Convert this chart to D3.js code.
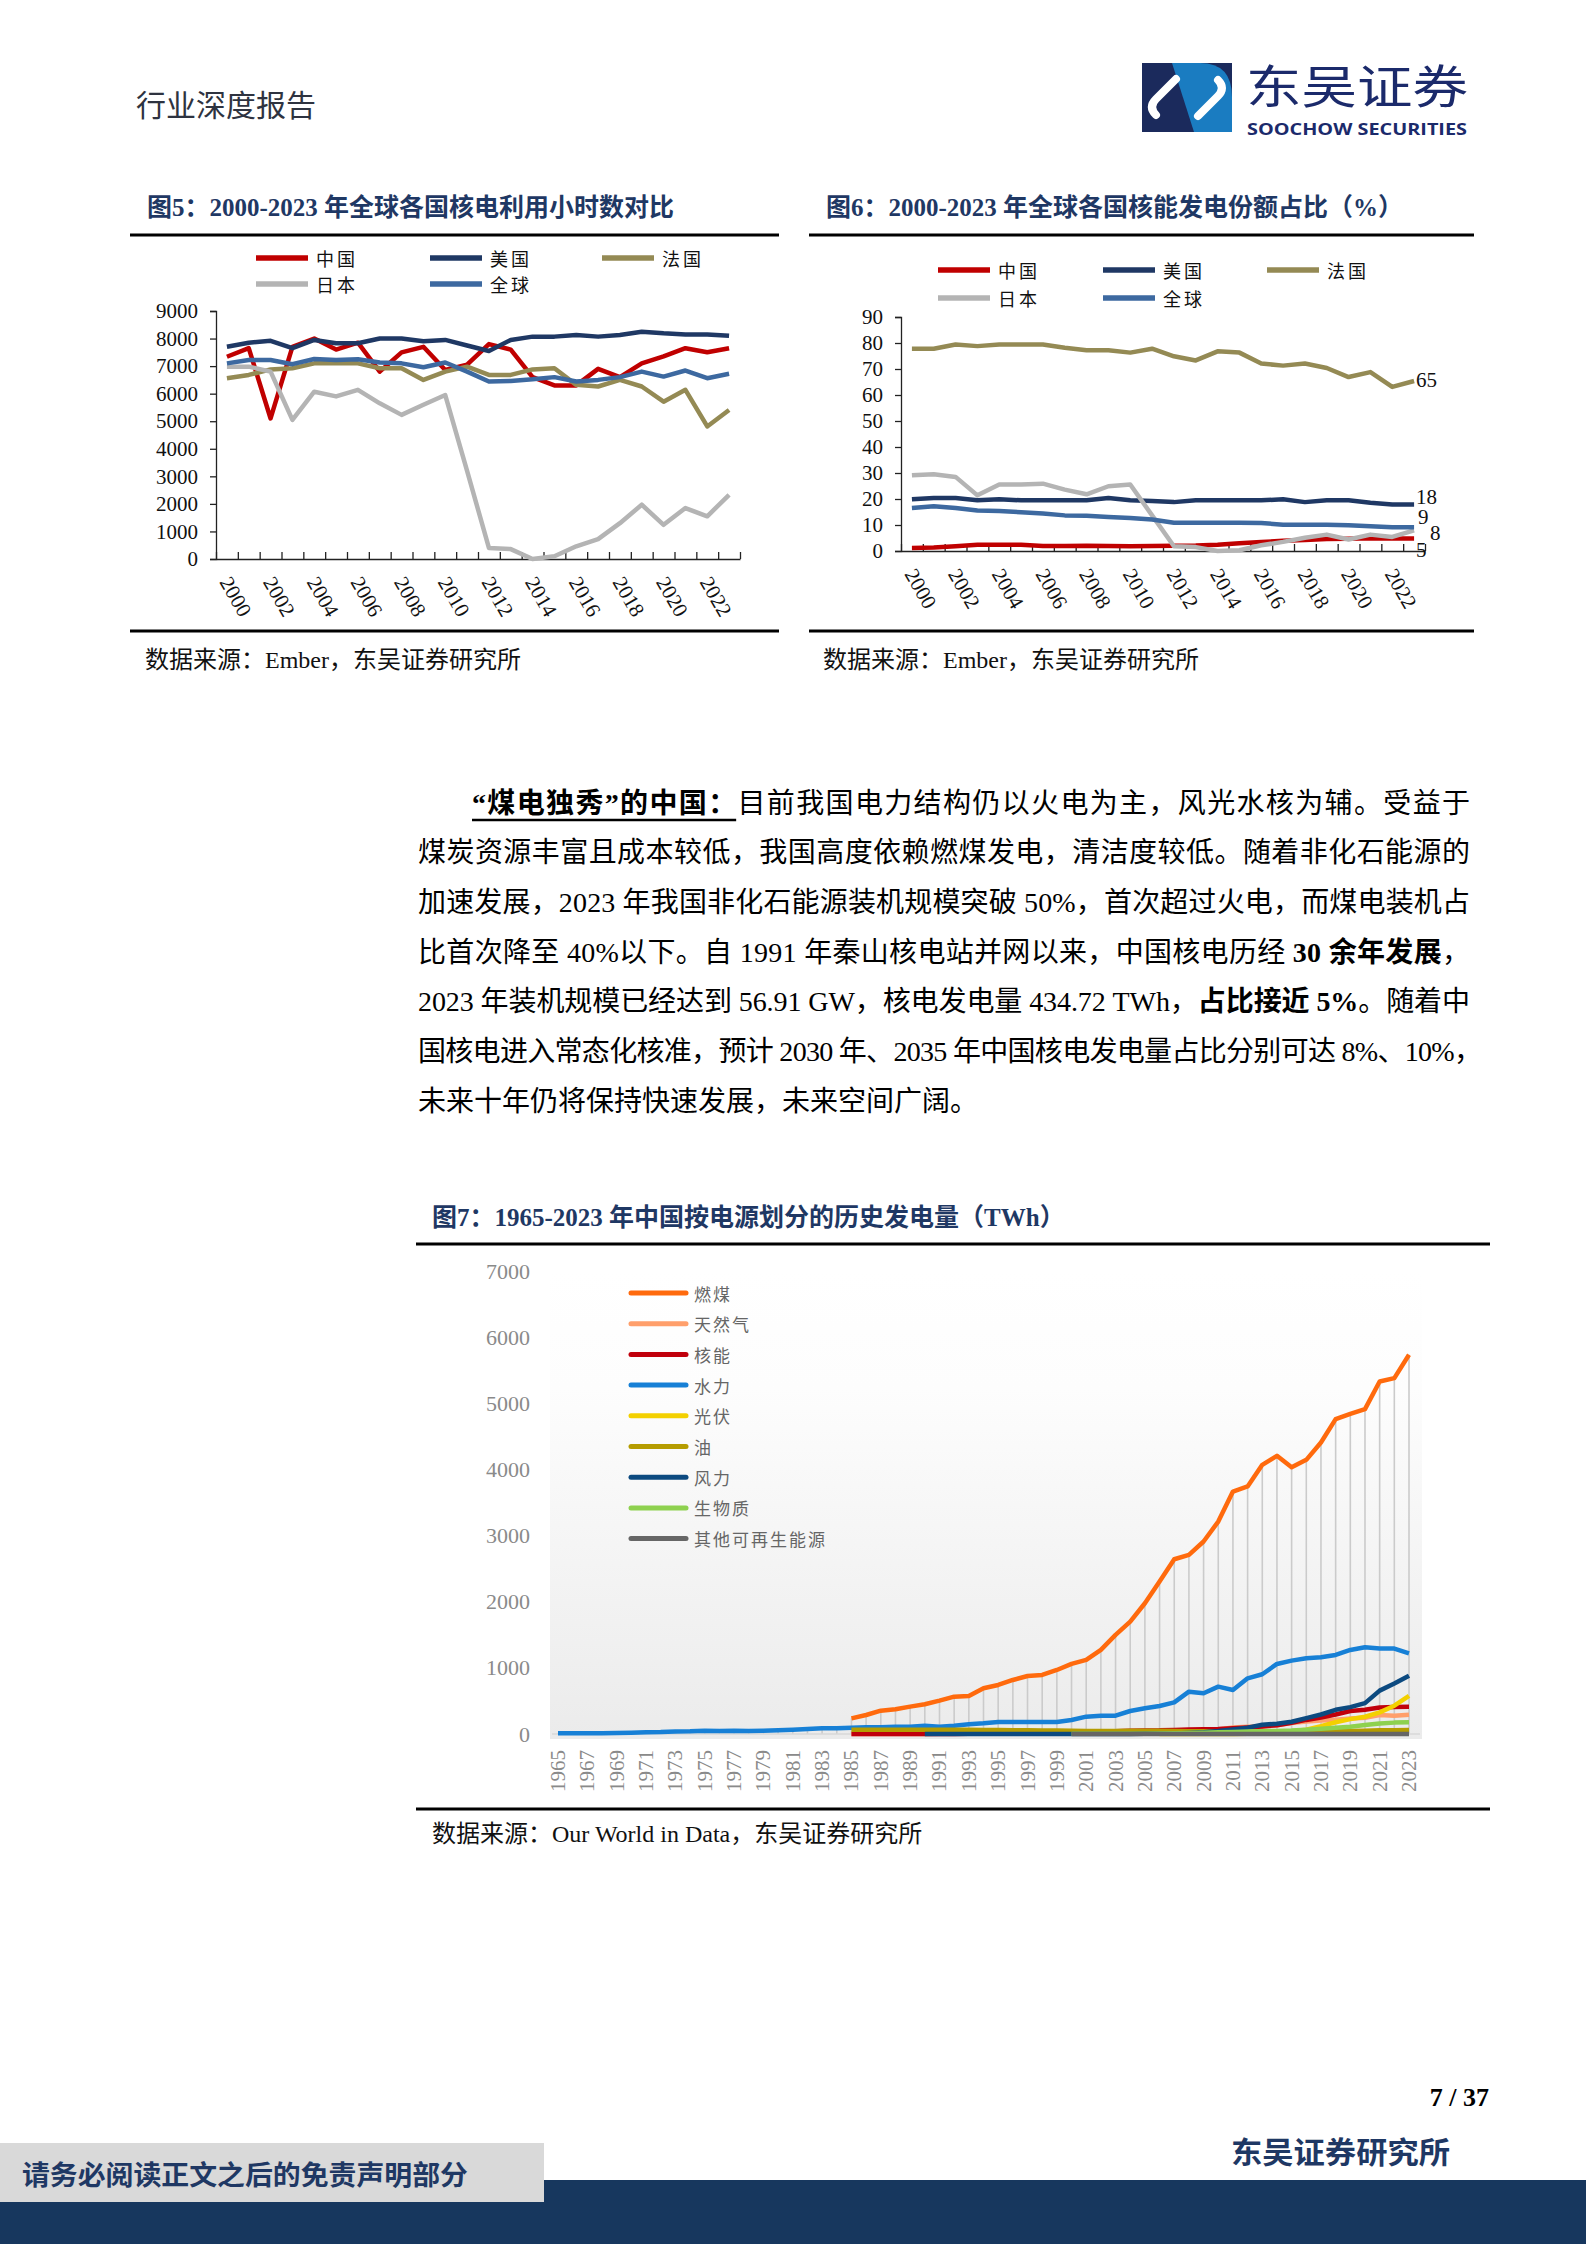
<!DOCTYPE html>
<html>
<head>
<meta charset="utf-8">
<script src="https://cdn.jsdelivr.net/npm/d3@7"></script>
<style>
  html, body { margin: 0; padding: 0; background: #fff; }
  svg { display: block; }
</style>
</head>
<body>
<script>
// ---- data: fig 5 (nuclear utilisation hours) ----
const years56 = d3.range(2000, 2024);
const hoursChina  = [7340,7650,5100,7700,8000,7600,7850,6800,7500,7700,6860,7050,7800,7600,6600,6300,6300,6900,6600,7100,7350,7650,7500,7650];
const hoursUS     = [7700,7850,7920,7650,7950,7830,7830,8000,8000,7900,7950,7750,7550,7950,8070,8070,8130,8070,8130,8250,8190,8150,8150,8100];
const hoursFrance = [6560,6680,6880,6920,7100,7100,7100,6920,6920,6500,6800,6980,6680,6680,6880,6920,6320,6260,6500,6260,5710,6140,4810,5410];
const hoursJapan  = [6980,6980,6800,5050,6070,5900,6140,5650,5230,5600,5950,3200,400,360,0,100,460,720,1300,1970,1240,1850,1550,2330];
const hoursWorld  = [7100,7220,7220,7070,7260,7220,7250,7130,7100,6960,7130,6800,6440,6460,6520,6600,6440,6500,6600,6800,6620,6840,6560,6720];

// ---- data: fig 6 (nuclear share of generation, %) ----
const shareChina  = [1.2,1.3,1.8,2.4,2.4,2.4,1.9,1.9,2.0,1.9,1.8,1.9,2.0,2.1,2.4,3.0,3.5,3.9,4.2,4.6,4.7,4.9,4.8,4.8];
const shareUS     = [19.9,20.4,20.4,19.5,19.9,19.5,19.5,19.5,19.5,20.4,19.5,19.2,18.8,19.5,19.5,19.5,19.5,19.9,18.8,19.5,19.5,18.6,17.9,17.9];
const shareFrance = [77.8,77.8,79.4,78.8,79.4,79.4,79.4,78.2,77.2,77.2,76.3,77.8,74.9,73.3,76.8,76.3,72.1,71.3,72.1,70.4,66.9,68.8,63.1,65.4];
const shareJapan  = [29.1,29.5,28.5,21.4,25.6,25.6,25.9,23.6,21.8,24.9,25.6,13.7,1.8,1.5,0,0.3,2.2,3.5,5.1,6.3,4.4,6.3,5.4,7.9];
const shareWorld  = [16.5,17.2,16.5,15.6,15.4,14.9,14.4,13.7,13.6,13.1,12.7,12.1,10.9,10.9,10.9,10.9,10.8,10.1,10.1,10.1,9.9,9.5,9.1,9.1];
const shareEndLabels = ['5','18','65','8','9'];

const countryNames = ['中国','美国','法国','日本','全球'];
const countryColors = ['#c00000','#1f3864','#948a54','#b4b4b4','#3d69a0'];

// ---- data: fig 7 (China generation by source, TWh) ----
const years7 = d3.range(1965, 2024);
const coal    = {start: 1985, values: [237,287,353,373,414,449,504,565,575,691,741,817,877,893,968,1059,1120,1271,1498,1699,1977,2305,2642,2708,2910,3212,3666,3742,4070,4206,4034,4145,4407,4760,4841,4912,5330,5381,5734]};
const gas     = {start: 1985, values: [1,1,1,1,1,1,3,3,3,3,3,3,3,3,3,6,6,6,6,6,12,24,33,31,36,69,97,110,116,133,167,188,203,215,233,247,287,275,290]};
const nuclear = {start: 1985, values: [0,0,0,0,0,0,0,1,2,14,13,14,14,14,15,17,17,25,43,50,53,55,62,68,70,74,86,97,112,133,171,213,248,295,348,366,400,410,413]};
const hydro   = {start: 1965, values: [10,11,12,12,15,20,25,29,39,41,48,46,48,45,50,58,66,74,86,87,96,101,101,111,111,126,111,126,146,161,182,182,182,182,182,212,262,277,277,348,388,424,479,640,615,716,666,842,903,1059,1109,1145,1160,1195,1271,1311,1291,1291,1220]};
const solar   = {start: 2006, values: [0,0,0,0,0,1,3,8,24,40,66,118,177,225,261,327,428,575]};
const oil     = {start: 1985, values: [65,65,65,66,66,66,66,65,64,62,60,58,56,54,52,48,46,44,46,48,50,48,45,42,40,38,36,35,33,34,35,36,37,40,45,50,55,58,60]};
const wind    = {start: 1990, values: [0,0,0,0,0,0,0,0,0,0,1,1,1,1,1,2,4,6,15,27,45,70,96,141,156,186,241,295,366,406,467,656,763,882]};
const biomass = {start: 2000, values: [2,3,3,3,4,5,8,10,14,20,25,32,36,42,46,53,65,80,95,110,135,160,172,178]};
const otherRe = {start: 2000, values: [0.1,0.1,0.1,0.1,0.1,0.1,0.1,0.1,0.1,0.1,0.1,0.1,0.1,0.1,0.1,0.1,0.1,0.2,0.2,0.2,0.2,0.2,0.2,0.2]};
const sourceNames  = ['燃煤','天然气','核能','水力','光伏','油','风力','生物质','其他可再生能源'];
const sourceSeries = [coal, gas, nuclear, hydro, solar, oil, wind, biomass, otherRe];
const sourceColors = ['#ff6a0d','#ff9f6b','#c0000c','#1780d6','#f3d000','#b59c00','#0c4a80','#8ed14f','#666666'];

// ---- page ----
const W = 1586, H = 2244;
const SERIF = '"Liberation Serif","Times New Roman","Noto Sans CJK SC",serif';
const CJK = '"Noto Sans CJK SC","Liberation Serif",sans-serif';
const NAVY = '#1f3864';

const svg = d3.select('body').append('svg').attr('width', W).attr('height', H)
  .style('font-family', SERIF);

// header
svg.append('text').attr('x', 136).attr('y', 103).attr('dominant-baseline', 'central')
  .style('font-size', '30px').style('font-family', CJK).attr('fill', '#2e3340').text('行业深度报告');

const logo = svg.append('g').attr('transform', 'translate(1142,63)');
logo.append('rect').attr('width', 90).attr('height', 69).attr('fill', '#1b2a5c');
logo.append('path').attr('d', 'M30,0 H58 Q90,0 90,34 V69 H52 Z').attr('fill', '#1a7cc1');
logo.append('path').attr('d', 'M14,52 Q6,44 14,36 L34,16').attr('fill', 'none')
  .attr('stroke', '#fff').attr('stroke-width', 8).attr('stroke-linecap', 'round');
logo.append('path').attr('d', 'M76,17 Q84,25 76,33 L56,53').attr('fill', 'none')
  .attr('stroke', '#fff').attr('stroke-width', 8).attr('stroke-linecap', 'round');
svg.append('text').attr('x', 1246).attr('y', 83).attr('dominant-baseline', 'central')
  .attr('textLength', 222).attr('lengthAdjust', 'spacingAndGlyphs')
  .style('font-size', '46px').style('font-family', CJK).attr('fill', '#1b2a6b').text('东吴证券');
svg.append('text').attr('x', 1247).attr('y', 135)
  .attr('textLength', 220).attr('lengthAdjust', 'spacingAndGlyphs')
  .style('font-size', '16px').style('font-family', '"Open Sans","DejaVu Sans",sans-serif')
  .style('font-weight', 700).attr('fill', '#1b2a6b').text('SOOCHOW SECURITIES');

function title(x, y, str) {
  svg.append('text').attr('x', x).attr('y', y).attr('dominant-baseline', 'central')
    .style('font-size', '25px').style('font-weight', 700).attr('fill', NAVY).text(str);
}
function rule(x1, x2, y) {
  svg.append('line').attr('x1', x1).attr('x2', x2).attr('y1', y).attr('y2', y)
    .attr('stroke', '#000').attr('stroke-width', 3);
}
function source(x, y, str) {
  svg.append('text').attr('x', x).attr('y', y).attr('dominant-baseline', 'central')
    .style('font-size', '24px').attr('fill', '#111').text(str);
}

// ---- fig 5 / fig 6 line charts ----
function lineChart(o) {
  const g = svg.append('g');
  const x = d3.scalePoint().domain(years56).range([o.left, o.right]).padding(0.5);
  const xEdge = d3.scaleLinear().domain([0, years56.length]).range([o.left, o.right]);
  const y = d3.scaleLinear().domain([0, o.yMax]).range([o.bottom, o.top]);

  const ya = g.append('g').attr('transform', `translate(${o.left},0)`)
    .call(d3.axisLeft(y).tickValues(d3.range(0, o.yMax + 1, o.yStep)).tickFormat(d3.format('d'))
      .tickSize(6).tickPadding(12));
  ya.selectAll('text').style('font-size', '21px').style('font-family', SERIF).attr('fill', '#111');
  ya.selectAll('line,path').attr('stroke', '#222').attr('stroke-width', 1.3);

  const xa = g.append('g').attr('transform', `translate(0,${o.bottom})`)
    .call(d3.axisBottom(xEdge).tickValues(d3.range(0, years56.length + 1)).tickSize(-7).tickSizeOuter(0).tickFormat(''));
  xa.selectAll('line,path').attr('stroke', '#222').attr('stroke-width', 1.3);

  g.selectAll('.xl').data(years56.filter(d => d % 2 === 0)).join('text')
    .attr('transform', d => `translate(${x(d) - 8},${o.bottom + 23}) rotate(60)`)
    .style('font-size', '21px').attr('fill', '#111').text(d => d);

  const line = d3.line().x((d, i) => x(years56[i])).y(d => y(d));
  o.series.forEach((s, i) => {
    g.append('path').datum(s).attr('d', line).attr('fill', 'none')
      .attr('stroke', countryColors[i]).attr('stroke-width', 4.5).attr('stroke-linejoin', 'round');
  });

  countryNames.forEach((n, i) => {
    const col = i % 3, row = Math.floor(i / 3);
    const lx = o.legX[col], ly = o.legY[row];
    g.append('line').attr('x1', lx).attr('x2', lx + 52).attr('y1', ly).attr('y2', ly)
      .attr('stroke', countryColors[i]).attr('stroke-width', 5.5);
    g.append('text').attr('x', lx + 60).attr('y', ly).attr('dominant-baseline', 'central')
      .style('font-size', '18px').style('font-family', CJK).style('letter-spacing', '3px')
      .attr('fill', '#111').text(n);
  });
  return {x, y, g};
}

title(147, 207, '图5：2000-2023 年全球各国核电利用小时数对比');
rule(130, 779, 235);
lineChart({
  left: 216, right: 740, top: 311, bottom: 559, yMax: 9000, yStep: 1000,
  series: [hoursChina, hoursUS, hoursFrance, hoursJapan, hoursWorld],
  legX: [256, 430, 602], legY: [258, 284]
});
rule(130, 779, 631);
source(145, 660, '数据来源：Ember，东吴证券研究所');

title(826, 207, '图6：2000-2023 年全球各国核能发电份额占比（%）');
rule(809, 1474, 235);
const c6 = lineChart({
  left: 901, right: 1425, top: 317, bottom: 551, yMax: 90, yStep: 10,
  series: [shareChina, shareUS, shareFrance, shareJapan, shareWorld],
  legX: [938, 1103, 1267], legY: [270, 298]
});
{
  const last = years56[years56.length - 1];
  const ends = [shareChina, shareUS, shareFrance, shareJapan, shareWorld].map(s => s[s.length - 1]);
  const dys = [11, -7, -1, 3, -10];
  const dxs = [2, 2, 2, 16, 4];
  ends.forEach((v, i) => {
    c6.g.append('text').attr('x', c6.x(last) + dxs[i]).attr('y', c6.y(v) + dys[i])
      .attr('dominant-baseline', 'central').style('font-size', '21px').attr('fill', '#111')
      .text(shareEndLabels[i]);
  });
}
rule(809, 1474, 631);
source(823, 660, '数据来源：Ember，东吴证券研究所');

// ---- body paragraph ----
const bodyLines = [
  [['“煤电独秀”的中国：', 'bu'], ['目前我国电力结构仍以火电为主，风光水核为辅。受益于', '']],
  [['煤炭资源丰富且成本较低，我国高度依赖燃煤发电，清洁度较低。随着非化石能源的', '']],
  [['加速发展，2023 年我国非化石能源装机规模突破 50%，首次超过火电，而煤电装机占', '']],
  [['比首次降至 40%以下。自 1991 年秦山核电站并网以来，中国核电历经 ', ''], ['30 余年发展', 'b'], ['，', '']],
  [['2023 年装机规模已经达到 56.91 GW，核电发电量 434.72 TWh，', ''], ['占比接近 5%', 'b'], ['。随着中', '']],
  [['国核电进入常态化核准，预计 2030 年、2035 年中国核电发电量占比分别可达 8%、10%，', '']],
  [['未来十年仍将保持快速发展，未来空间广阔。', '']]
];
const bodyY = [803, 852, 902, 952, 1001, 1051, 1101];
bodyLines.forEach((segs, i) => {
  const x0 = i === 0 ? 472 : 418;
  const t = svg.append('text').attr('x', x0).attr('y', bodyY[i]).attr('dominant-baseline', 'central')
    .style('font-size', '28px').attr('fill', '#000');
  if (i < bodyLines.length - 1) {
    t.attr('textLength', (i === 5 ? 1482 : 1470) - x0).attr('lengthAdjust', 'spacing');
  }
  segs.forEach(([s, st]) => {
    const ts = t.append('tspan').text(s);
    if (st.includes('b')) ts.style('font-weight', 700);
    if (st.includes('u')) ts.classed('ul', true);
  });
  t.selectAll('tspan.ul').each(function () {
    const bb = this.getBBox();
    svg.append('line').attr('x1', bb.x).attr('x2', bb.x + bb.width)
      .attr('y1', bodyY[i] + 17).attr('y2', bodyY[i] + 17).attr('stroke', '#000').attr('stroke-width', 2.5);
  });
});

// ---- fig 7 ----
title(432, 1217, '图7：1965-2023 年中国按电源划分的历史发电量（TWh）');
rule(416, 1490, 1244);
{
  const g = svg.append('g');
  const x = d3.scalePoint().domain(years7).range([558, 1409]);
  const y = d3.scaleLinear().domain([0, 7000]).range([1734, 1271]);

  const grad = svg.append('defs').append('linearGradient').attr('id', 'bg7')
    .attr('x1', 0).attr('y1', 0).attr('x2', 0).attr('y2', 1);
  grad.append('stop').attr('offset', '0%').attr('stop-color', '#ffffff');
  grad.append('stop').attr('offset', '25%').attr('stop-color', '#fdfdfd');
  grad.append('stop').attr('offset', '100%').attr('stop-color', '#ebebeb');
  g.append('rect').attr('x', 550).attr('y', y(7000)).attr('width', 872).attr('height', y(0) - y(7000) + 5)
    .attr('fill', 'url(#bg7)');

  const full = sourceSeries.map(s => years7.map(yr => {
    const k = yr - s.start;
    return k >= 0 && k < s.values.length ? s.values[k] : null;
  }));

  // drop lines from the top series to the axis
  const tops = years7.map((yr, i) => d3.max(full, s => s[i]));
  g.selectAll('.drop').data(years7).join('line')
    .attr('x1', d => x(d)).attr('x2', d => x(d))
    .attr('y1', (d, i) => y(tops[i])).attr('y2', y(0))
    .attr('stroke', '#cbcbcb').attr('stroke-width', 1.6);

  g.append('line').attr('x1', 552).attr('x2', 1420).attr('y1', y(0)).attr('y2', y(0))
    .attr('stroke', '#d9d9d9').attr('stroke-width', 1.5);

  const ya = g.append('g').attr('transform', 'translate(540,0)')
    .call(d3.axisLeft(y).tickValues(d3.range(0, 7001, 1000)).tickFormat(d3.format('d')).tickSize(0).tickPadding(10));
  ya.select('.domain').remove();
  ya.selectAll('text').style('font-size', '22px').style('font-family', SERIF).attr('fill', '#8a8a8a');

  g.selectAll('.xl').data(years7.filter(d => d % 2 === 1)).join('text')
    .attr('transform', d => `translate(${x(d) + 7},1750) rotate(-90)`)
    .attr('text-anchor', 'end').style('font-size', '21px').attr('fill', '#8a8a8a').text(d => d);

  const line = d3.line().defined(d => d !== null).x((d, i) => x(years7[i])).y(d => y(d));
  full.forEach((s, i) => {
    g.append('path').datum(s).attr('d', line).attr('fill', 'none')
      .attr('stroke', sourceColors[i]).attr('stroke-width', 4.5).attr('stroke-linejoin', 'round');
  });

  sourceNames.forEach((n, i) => {
    const ly = 1293 + i * 30.7;
    g.append('line').attr('x1', 631).attr('x2', 686).attr('y1', ly).attr('y2', ly)
      .attr('stroke', sourceColors[i]).attr('stroke-width', 5).attr('stroke-linecap', 'round');
    g.append('text').attr('x', 694).attr('y', ly).attr('dominant-baseline', 'central')
      .style('font-size', '17px').style('font-family', CJK).style('letter-spacing', '2px')
      .attr('fill', '#666').text(n);
  });
}
rule(416, 1490, 1809);
source(432, 1834, '数据来源：Our World in Data，东吴证券研究所');

// ---- footer ----
svg.append('text').attr('x', 1489).attr('y', 2097).attr('text-anchor', 'end').attr('dominant-baseline', 'central')
  .style('font-size', '26px').style('font-weight', 700).attr('fill', '#000').text('7 / 37');
svg.append('text').attr('x', 1231).attr('y', 2150).attr('dominant-baseline', 'central')
  .attr('textLength', 219).attr('lengthAdjust', 'spacingAndGlyphs')
  .style('font-size', '30px').style('font-family', CJK).style('font-weight', 700).attr('fill', '#1f3864').text('东吴证券研究所');
svg.append('rect').attr('x', 0).attr('y', 2180).attr('width', W).attr('height', H - 2180).attr('fill', '#17375e');
svg.append('rect').attr('x', 0).attr('y', 2143).attr('width', 544).attr('height', 59).attr('fill', '#d9d9d9');
svg.append('text').attr('x', 22).attr('y', 2173).attr('dominant-baseline', 'central')
  .attr('textLength', 446).attr('lengthAdjust', 'spacingAndGlyphs')
  .style('font-size', '27px').style('font-family', CJK).style('font-weight', 700).attr('fill', '#1f3864')
  .text('请务必阅读正文之后的免责声明部分');
</script>
</body>
</html>
